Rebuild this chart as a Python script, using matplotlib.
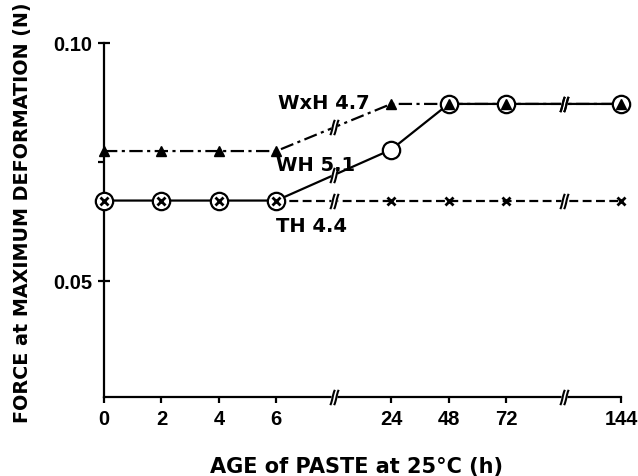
import matplotlib
matplotlib.use("Agg")
import matplotlib.pyplot as plt
from matplotlib.path import Path
import numpy as np

# Age of paste (h) and force at maximum deformation (N)
hours = [0, 2, 4, 6, 24, 48, 72, 144]
hour_labels = ["0", "2", "4", "6", "24", "48", "72", "144"]
gap_after = [6, 72]          # axis is broken after these ages

force_wxh = [0.0773, 0.0773, 0.0773, 0.0773, 0.0872, 0.0872, 0.0872, 0.0872]
force_wh = [0.0669, 0.0669, 0.0669, 0.0669, 0.0776, 0.0872, 0.0872, 0.0872]
force_th = [0.0669, 0.0669, 0.0669, 0.0669, 0.0669, 0.0669, 0.0669, 0.0669]

series_names = ["WxH 4.7", "WH 5.1", "TH 4.4"]

# evenly spaced category positions with an empty slot at each break
xpos = []
breaks = []
p = 0
for h in hours:
    xpos.append(p)
    if h in gap_after:
        breaks.append(p + 1)
        p += 2
    else:
        p += 1
xpos = np.array(xpos, dtype=float)

plt.rcParams["font.family"] = ["Liberation Sans", "DejaVu Sans"]
plt.rcParams["font.weight"] = "bold"
LABEL_FONT = "DejaVu Sans"

fig = plt.figure(figsize=(6.38, 4.77), dpi=100)
ax = fig.add_axes([104 / 638, 1 - 398 / 477, 517 / 638, 354 / 477])
ax.set_xlim(0, xpos[-1])
ax.set_ylim(0.02563, 0.10)

for side in ("top", "right"):
    ax.spines[side].set_visible(False)
for side in ("left", "bottom"):
    ax.spines[side].set_linewidth(1.6)

lw = 1.6
# connecting lines
ax.plot(xpos, force_wxh, color="black", lw=lw, linestyle=(0, (6, 2, 1.4, 2)),
        zorder=2, clip_on=False)
ax.plot(xpos[3:], force_th[3:], color="black", lw=lw, linestyle=(0, (4, 2)),
        zorder=2, clip_on=False)
ax.plot(xpos, force_wh, color="black", lw=lw, linestyle="-", zorder=2.2,
        clip_on=False)

# break marks on the lines and on the x axis
brk = Path([(-0.55, -1.0), (-0.25, -0.4), (-0.25, 0.4), (0.05, 1.0),
            (-0.05, -1.0), (0.25, -0.4), (0.25, 0.4), (0.55, 1.0)],
           [Path.MOVETO, Path.CURVE4, Path.CURVE4, Path.CURVE4,
            Path.MOVETO, Path.CURVE4, Path.CURVE4, Path.CURVE4])


def draw_breaks(yb):
    ax.plot(breaks, yb, linestyle="none", marker="s", ms=5, mfc="white",
            mec="none", zorder=2.6, clip_on=False)
    ax.plot(breaks, yb, linestyle="none", marker=brk, ms=11, mfc="none",
            mec="black", mew=1.5, zorder=2.7, clip_on=False)


for ys in (force_wxh, force_wh, force_th):
    draw_breaks(np.interp(breaks, xpos, ys))
draw_breaks([ax.get_ylim()[0]] * len(breaks))

# WH: open circles; a cross inside where TH coincides, a triangle where WxH coincides
ax.plot(xpos, force_wh, linestyle="none", marker="o", ms=12.5, mfc="white",
        mec="black", mew=1.6, zorder=4, clip_on=False)
# TH crosses
ax.plot(xpos, force_th, linestyle="none", marker="x", ms=5.5, mec="black",
        mew=2.0, zorder=5, clip_on=False)
# WxH triangles
ax.plot(xpos, force_wxh, linestyle="none", marker="^", ms=7, mfc="black",
        mec="black", zorder=5, clip_on=False)

# series labels
ax.text(3.03, 0.0874, series_names[0], fontsize=14, fontweight="bold",
        family=LABEL_FONT, ha="left", va="center", zorder=6)
ax.text(3.0, 0.0744, series_names[1], fontsize=14, fontweight="bold",
        family=LABEL_FONT, ha="left", va="center", zorder=1)
ax.text(3.0, 0.0616, series_names[2], fontsize=14, fontweight="bold",
        family=LABEL_FONT, ha="left", va="center", zorder=6)

# ticks
ax.set_xticks(xpos)
ax.set_xticklabels(hour_labels)
ax.set_yticks([0.05, 0.10])
ax.set_yticklabels(["0.05", "0.10"])
ax.set_yticks([0.075], minor=True)
ax.tick_params(axis="x", direction="out", length=4, width=1.6, pad=5,
               labelsize=14.5)
ax.tick_params(axis="y", which="major", direction="inout", length=9, width=1.6,
               pad=4, labelsize=14.5)
ax.tick_params(axis="y", which="minor", direction="out", length=4, width=1.6)

ax.set_xlabel("AGE of PASTE at 25°C (h)", fontsize=15, fontweight="bold",
              family=LABEL_FONT)
ax.xaxis.set_label_coords(253 / 517, -69 / 354)
ax.xaxis.label.set_va("center")
ax.set_ylabel("FORCE at MAXIMUM DEFORMATION (N)", fontsize=13.8,
              fontweight="bold", family=LABEL_FONT)
ax.yaxis.set_label_coords(-81 / 517, 185 / 354)
ax.yaxis.label.set_va("center")

fig.savefig("out.png", dpi=100)
